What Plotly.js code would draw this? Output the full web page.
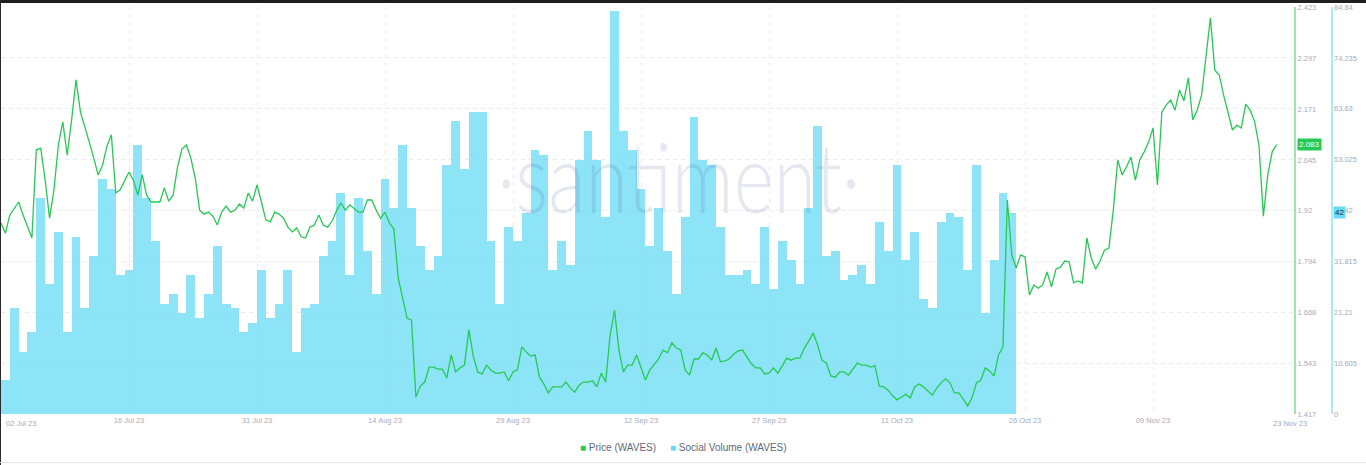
<!DOCTYPE html>
<html>
<head>
<meta charset="utf-8">
<script src="https://cdn.plot.ly/plotly-3.0.1.min.js"></script>
<style>
  html, body { margin: 0; padding: 0; background: #ffffff; }
  #wrap { position: relative; width: 1366px; height: 465px; overflow: hidden; }
  #chart { position: absolute; left: 0; top: 0; width: 1366px; height: 465px; }
  #topbar { position: absolute; left: 0; top: 0; width: 1366px; height: 3px; background: #1e1e20; z-index: 5; }
  #leftbar { position: absolute; left: 0; top: 0; width: 1px; height: 465px; background: #2a2a2c; z-index: 5; }
  #bottomline { position: absolute; left: 0; top: 462px; width: 1366px; height: 1px; background: #e6e7ec; z-index: 5; }
  #watermark { position: absolute; left: 497px; top: 128px; z-index: 4; pointer-events: none;
    font-family: Lato, "Open Sans", sans-serif; font-weight: 300; font-size: 96px; line-height: 1;
    color: rgba(45,60,140,0.12); transform: scaleX(0.8); transform-origin: left top; white-space: nowrap; }
</style>
</head>
<body>
<div id="wrap">
  <div id="chart"></div>
  <div id="watermark">·santiment·</div>
  <div id="topbar"></div>
  <div id="leftbar"></div>
  <div id="bottomline"></div>
</div>
<script>
// ---- data ----
const volumeStart = '2023-07-02';          // first daily bar
const socialVolume = [
  7,22,13,17,45,27,38,17,37,22,
  33,49,47,29,30,56,45,36,23,25,
  21,29,20,25,35,23,22,17,19,30,
  20,23,30,13,22,23,33,36,46,29,
  45,34,25,49,43,56,43,35,30,33,
  52,61,51,63,63,36,23,39,36,42,
  55,54,30,36,31,53,59,53,41,84,
  59,55,47,35,43,34,25,41,62,53,
  52,39,29,29,30,27,39,26,36,32,
  27,43,60,33,34,28,29,31,27,40,
  34,52,32,38,24,22,40,42,41,30,
  52,21,32,46,42
];
const priceStart = '2023-07-01T12:00:00Z';  // first price sample
const priceStepHours = 12;
const priceWaves = [
  1.889,1.864,1.909,1.926,1.941,1.909,1.879,1.852,2.070,2.074,
  1.995,1.901,1.971,2.082,2.139,2.057,2.144,2.243,2.163,2.129,
  2.089,2.050,2.008,2.032,2.079,2.107,1.963,1.971,1.995,2.015,
  1.995,1.958,2.008,1.958,1.941,1.941,1.941,1.976,1.943,1.958,
  2.028,2.072,2.082,2.050,2.000,1.921,1.911,1.916,1.906,1.884,
  1.916,1.931,1.916,1.921,1.936,1.926,1.963,1.943,1.983,1.941,
  1.897,1.892,1.916,1.911,1.901,1.879,1.867,1.877,1.855,1.852,
  1.879,1.884,1.909,1.884,1.879,1.894,1.919,1.939,1.921,1.934,
  1.926,1.916,1.916,1.946,1.946,1.921,1.901,1.916,1.889,1.874,
  1.753,1.699,1.654,1.649,1.459,1.486,1.496,1.533,1.533,1.528,
  1.528,1.506,1.563,1.521,1.531,1.538,1.625,1.560,1.521,1.516,
  1.538,1.526,1.518,1.518,1.521,1.499,1.521,1.526,1.583,1.570,
  1.560,1.563,1.508,1.491,1.469,1.484,1.484,1.484,1.496,1.481,
  1.471,1.489,1.496,1.496,1.499,1.484,1.518,1.496,1.612,1.674,
  1.575,1.521,1.538,1.538,1.563,1.531,1.501,1.526,1.541,1.553,
  1.575,1.568,1.593,1.580,1.575,1.526,1.513,1.553,1.553,1.568,
  1.563,1.550,1.580,1.546,1.548,1.553,1.565,1.573,1.575,1.558,
  1.541,1.531,1.531,1.516,1.518,1.531,1.518,1.536,1.555,1.550,
  1.555,1.555,1.580,1.597,1.617,1.588,1.550,1.543,1.511,1.508,
  1.521,1.521,1.513,1.528,1.543,1.538,1.538,1.533,1.536,1.486,
  1.484,1.476,1.462,1.452,1.459,1.466,1.457,1.484,1.491,1.484,
  1.474,1.464,1.481,1.494,1.504,1.494,1.469,1.469,1.454,1.437,
  1.457,1.494,1.501,1.531,1.523,1.511,1.563,1.583,1.946,1.810,
  1.778,1.810,1.805,1.711,1.736,1.728,1.736,1.768,1.731,1.775,
  1.780,1.795,1.793,1.741,1.746,1.741,1.852,1.803,1.775,1.795,
  1.822,1.827,1.921,2.045,2.008,2.028,2.052,1.995,2.045,2.065,
  2.089,2.124,1.983,2.163,2.181,2.193,2.168,2.218,2.191,2.248,
  2.144,2.168,2.205,2.304,2.396,2.267,2.255,2.205,2.163,2.119,
  2.131,2.124,2.183,2.168,2.141,2.082,1.906,2.008,2.065,2.083
];
const xTickVals = ['2023-07-16 00:00','2023-07-30 12:00','2023-08-14 00:00','2023-08-28 12:00',
  '2023-09-12 00:00','2023-09-26 12:00','2023-10-11 00:00','2023-10-25 12:00','2023-11-09 00:00'];
const xTickText = ['16 Jul 23','31 Jul 23','14 Aug 23','29 Aug 23','12 Sep 23','27 Sep 23','11 Oct 23','26 Oct 23','09 Nov 23'];
const xEdgeLabels = ['02 Jul 23','23 Nov 23'];
const xRange = ['2023-07-01 12:00','2023-11-25 02:00'];
const priceTicks = [1.417,1.543,1.668,1.794,1.92,2.045,2.171,2.297,2.423];
const priceTickText = ['1.417','1.543','1.668','1.794','1.92','2.045','2.171','2.297','2.423'];
const volumeTicks = [0,10.605,21.21,31.815,42.42,53.025,63.63,74.235,84.84];
const volumeTickText = ['0','10.605','21.21','31.815','42.42','53.025','63.63','74.235','84.84'];
const seriesNames = ['Price (WAVES)','Social Volume (WAVES)'];

// ---- build ----
function fmt(d){ return d.toISOString().slice(0,16).replace('T',' '); }
const DAY = 86400000;
const v0 = new Date(volumeStart + 'T00:00:00Z').getTime();
const volumeX = socialVolume.map((_, i) => fmt(new Date(v0 + i*DAY)));
const p0 = new Date(priceStart).getTime();
const priceX = priceWaves.map((_, i) => fmt(new Date(p0 + i*priceStepHours*3600000)));

const GREEN = '#26c953';
const CYAN = '#68dbf4';
const tickFont = {family: 'Liberation Sans, Arial, sans-serif', size: 7.5, color: '#a3abc1'};
const xDomainEnd = 1294/1330;

const traces = [
  {type: 'bar', x: volumeX, y: socialVolume, width: DAY, yaxis: 'y', xaxis: 'x',
   marker: {color: 'rgba(104,219,244,0.75)', line: {width: 0}}, hoverinfo: 'skip', name: seriesNames[1]},
  {type: 'scatter', mode: 'lines', x: priceX, y: priceWaves, yaxis: 'y2', xaxis: 'x',
   line: {color: GREEN, width: 1.3}, hoverinfo: 'skip', name: seriesNames[0]}
];

const lastPrice = priceWaves[priceWaves.length-1];
const lastVol = socialVolume[socialVolume.length-1];

const layout = {
  width: 1366, height: 465,
  margin: {l: 1, r: 35, t: 7, b: 51},
  paper_bgcolor: '#ffffff', plot_bgcolor: '#ffffff',
  showlegend: false, bargap: 0,
  font: {family: 'Liberation Sans, Arial, sans-serif'},
  xaxis: {type: 'date', domain: [0, xDomainEnd], range: xRange, tickvals: xTickVals, ticktext: xTickText,
    showgrid: true, gridcolor: '#e9ebf2', griddash: '4px,4px', gridwidth: 1,
    zeroline: false, showline: false, ticks: '', tickfont: tickFont, fixedrange: true},
  yaxis: {range: [0, 84.84], tickvals: volumeTicks, ticktext: volumeTickText, side: 'right',
    anchor: 'free', position: 1, showgrid: true, gridcolor: '#e9ebf2', griddash: '4px,4px',
    zeroline: false, showline: true, linecolor: '#a8ebf9', linewidth: 1.5, ticks: '', tickfont: tickFont},
  yaxis2: {range: [1.417, 2.423], tickvals: priceTicks, ticktext: priceTickText, side: 'right',
    overlaying: 'y', anchor: 'free', position: xDomainEnd, showgrid: false, zeroline: false,
    showline: true, linecolor: '#9fe3b2', linewidth: 2, ticks: '', tickfont: tickFont},
  annotations: [
    {xref: 'x', yref: 'paper', x: xRange[0], y: 0, xanchor: 'left', yanchor: 'top', yshift: -3, xshift: 3,
     text: xEdgeLabels[0], showarrow: false, font: tickFont},
    {xref: 'paper', yref: 'paper', x: xDomainEnd, y: 0, xanchor: 'center', yanchor: 'top', yshift: -3, xshift: -5,
     text: xEdgeLabels[1], showarrow: false, font: tickFont},
    {xref: 'paper', yref: 'y2', x: xDomainEnd, y: lastPrice, xanchor: 'left', yanchor: 'middle', xshift: 2,
     text: lastPrice.toFixed(3), showarrow: false, bgcolor: GREEN, borderpad: 1,
     font: {family: 'Liberation Sans, Arial, sans-serif', size: 8, color: '#ffffff'}},
    {xref: 'paper', yref: 'y', x: 1, y: lastVol, xanchor: 'left', yanchor: 'middle', xshift: 2,
     text: String(lastVol), showarrow: false, bgcolor: CYAN, borderpad: 1,
     font: {family: 'Liberation Sans, Arial, sans-serif', size: 8, color: '#1b2533'}},
    {xref: 'paper', yref: 'paper', x: 682/1330, y: -33/407, xanchor: 'center', yanchor: 'middle',
     text: '<span style="color:' + GREEN + '">■</span> ' + seriesNames[0] + '     <span style="color:' + CYAN + '">■</span> ' + seriesNames[1],
     showarrow: false, font: {family: 'Liberation Sans, Arial, sans-serif', size: 10, color: '#5f687c'}}
  ]
};

Plotly.newPlot('chart', traces, layout, {staticPlot: true, displayModeBar: false});
</script>
</body>
</html>
